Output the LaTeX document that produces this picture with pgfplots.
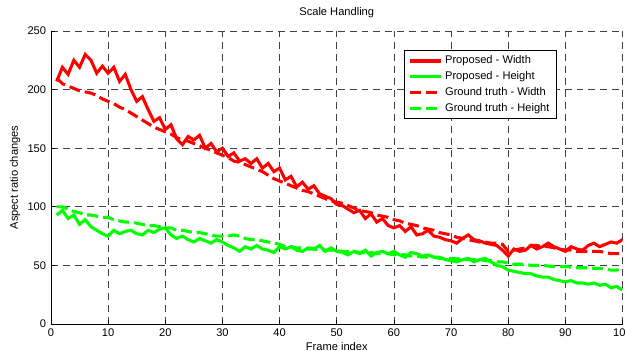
\documentclass[border=0pt]{standalone}
\usepackage{fontspec}
\setmainfont{Liberation Sans}
\usepackage{pgfplots}
\pgfplotsset{compat=1.18}
\usepackage{pgfplotstable}

\pgfplotstableread{
x pw gw ph gh
1 207 210 93 100
2 219 205 97 100
3 213 203 90 98
4 225 201 93 96
5 219 199 85 95
6 230 198 89 93
7 225 197 83 93
8 214 195 80 92
9 220 192 77 91
10 214 190 75 91
11 219 188 80 89
12 207 185 77 88
13 213 183 79 87
14 200 180 80 87
15 190 177 77 86
16 194 174 76 85
17 183 171 80 84
18 173 168 78 84
19 176 166 81 83
20 166 164 82 82
21 170 162 76 82
22 158 159 73 80
23 153 157 75 80
24 160 156 72 79
25 157 154 70 78
26 161 152 73 78
27 150 150 71 77
28 154 148 69 76
29 147 146 72 75
30 150 144 70 75
31 143 142 67 75
32 146 139 65 76
33 139 138 62 75
34 141 136 66 73
35 137 134 64 72
36 141 132 67 72
37 133 130 64 71
38 137 127 63 70
39 130 124 61 69
40 133 122 66 68
41 123 120 64 66
42 126 118 66 66
43 117 116 63 65
44 121 114 62 65
45 115 113 65 64
46 118 111 64 64
47 111 109 67 63
48 109 107 62 63
49 107 105 65 63
50 102 104 62 62.5
51 101 103 61 62
52 98 101 59 62
53 95 99 62 62
54 97 97 60 61
55 90 96 63 61
56 94 95 58 61
57 87 93 61 60
58 90 92 62 60
59 84 91 60 60
60 82 89 62 59
61 84 88 59 59.5
62 79 86 57 59
63 83 85 61 58
64 76 84 60 58
65 77 82 58 57
66 80 81 59 57
67 75 80 57 57
68 74 78 57 56
69 72 77 55 56
70 71 76 54 56
71 69 74 53 55.5
72 73 73 55 55.5
73 76 72 56 55
74 72 71 53 55
75 71 70 55 55
76 69 70 56 54
77 68 69 53 54
78 67 69 50 53
79 63 68 49 53
80 58 62 46 52
81 64 63 45 51
82 62 64 44 51
83 63 65 43 51
84 67 67 43 50
85 64 67 41 50
86 66 66 40 50
87 69 66 40 49.5
88 66 65 38 49
89 64 64 37 49
90 62 63 36 49
91 66 63 37 48.5
92 64 62 35 48
93 63 62 35 48
94 67 62 34 48
95 69 62 35 47.5
96 66 62 33 47.5
97 68 61 34 47
98 70 60 31 46
99 69 60 32 46
100 72 60 29 48
}\datatable

\definecolor{mred}{RGB}{255,0,0}
\definecolor{mgreen}{RGB}{0,255,0}

\begin{document}
\begin{tikzpicture}
\begin{axis}[
  at={(0,0)}, anchor=south west,
  scale only axis, width=411.5pt, height=211pt,
  xmin=0, xmax=100, ymin=0, ymax=250,
  xtick={0,10,...,100}, ytick={0,50,...,250},
  axis x line=bottom, axis y line=left,
  axis line style={-, line width=0.6pt, black},
  tick align=inside, major tick length=3pt,
  tick style={black, line width=0.5pt},
  grid=major,
  grid style={black!75, line width=0.5pt, dash pattern=on 5pt off 3.6pt},
  font=\fontsize{8}{9.6}\selectfont,
  /pgf/number format/assume math mode=true,
  ticklabel style={font=\fontsize{8}{9.6}\selectfont},
  title={Scale Handling},
  every axis title/.style={at={(0.5,1)}, anchor=base, yshift=10.8pt, font=\fontsize{8}{9.6}\selectfont},
  xlabel={Frame index},
  every axis x label/.style={at={(axis description cs:0.5,-0.078)}, anchor=center},
  ylabel={Aspect ratio changes},
  every axis y label/.style={at={(axis description cs:-0.063,0.5)}, anchor=center, rotate=90},
  no markers,
  legend style={at={(0.885,0.935)}, anchor=north east, draw=black, line width=0.5pt,
    fill=white, font=\fontsize{8}{9.6}\selectfont, inner xsep=3pt, inner ysep=2pt,
    row sep=0pt, cells={anchor=west}},
  legend image code/.code={\draw[#1] (0pt,0pt) -- (22pt,0pt);},
]
\addplot[mred, line width=2.2pt] table[x=x,y=pw]{\datatable};
\addlegendentry{Proposed - Width}
\addplot[mgreen, line width=2.2pt] table[x=x,y=ph]{\datatable};
\addlegendentry{Proposed - Height}
\addplot[mred, line width=2.2pt, dash pattern=on 8pt off 3.5pt] table[x=x,y=gw]{\datatable};
\addlegendentry{Ground truth - Width}
\addplot[mgreen, line width=2.2pt, dash pattern=on 8pt off 3.5pt] table[x=x,y=gh]{\datatable};
\addlegendentry{Ground truth - Height}
\end{axis}
\pgfresetboundingbox
\path (-36.7pt,-19.4pt) rectangle (413.3pt,233.3pt);
\end{tikzpicture}
\end{document}
